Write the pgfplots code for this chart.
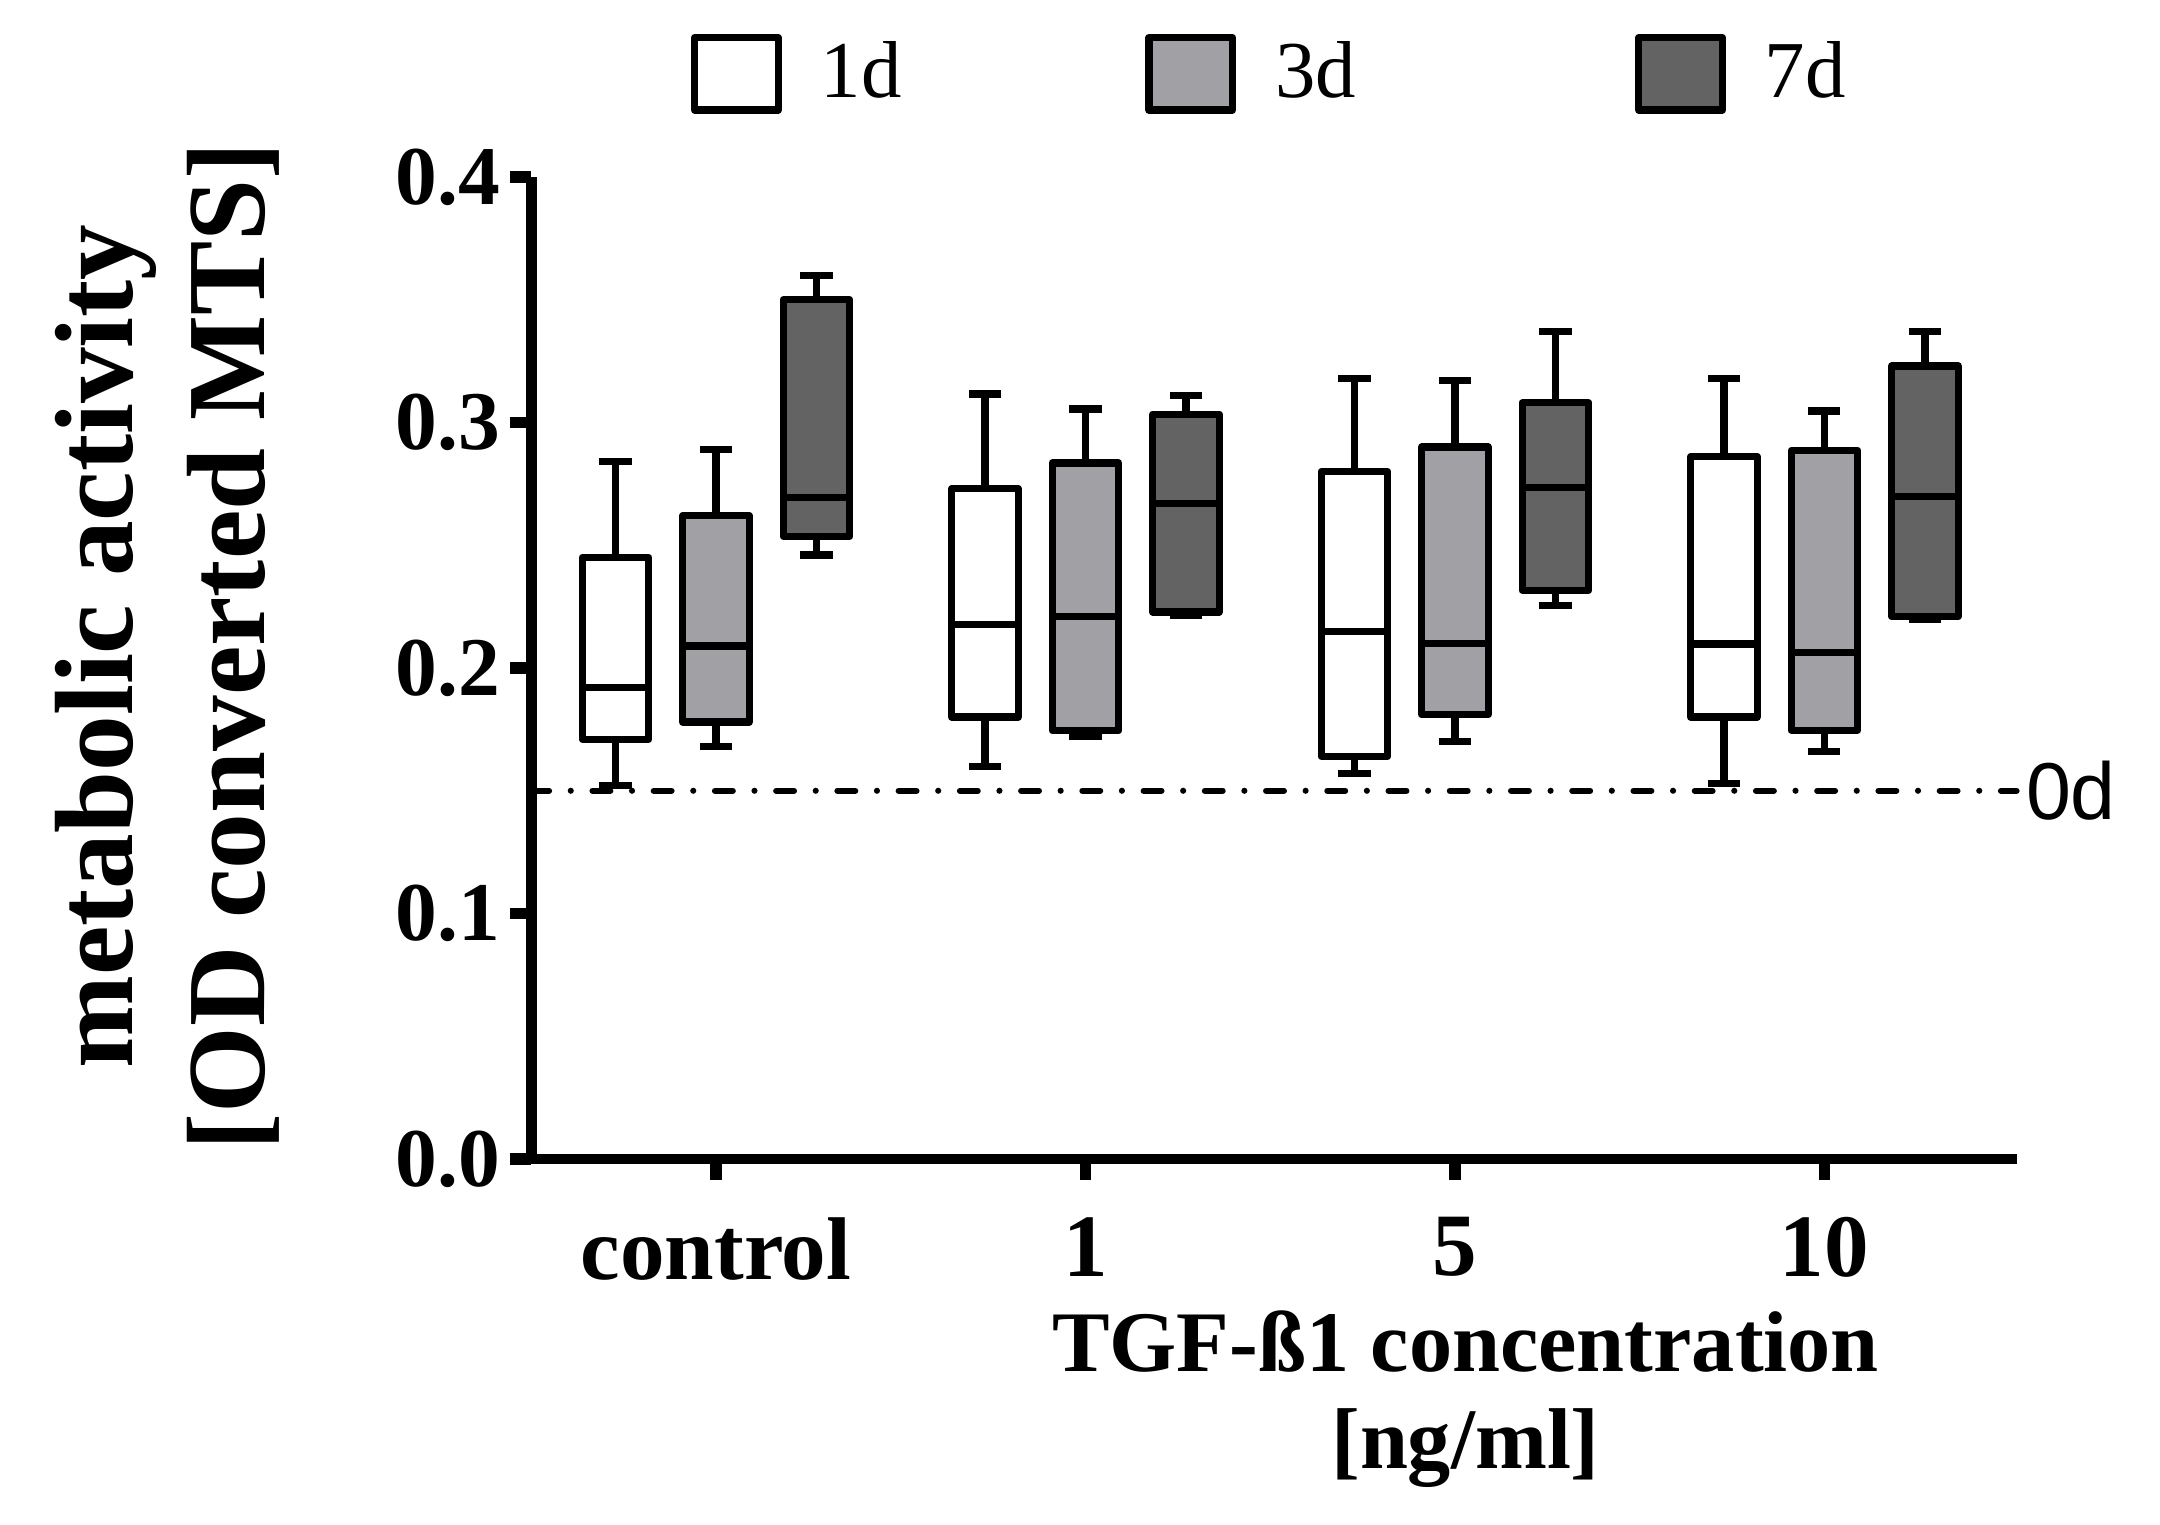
\documentclass[border=0pt]{standalone}
\usepackage{fontspec}
\setmainfont{Liberation Serif}
\newfontfamily\sansf{Liberation Sans}
\usepackage{pgfplots}
\pgfplotsset{compat=1.18}
\usepgfplotslibrary{statistics}

\definecolor{gLight}{RGB}{161,160,165}
\definecolor{gDark}{RGB}{99,99,99}

% one box: position, lower whisker, lower quartile, median, upper quartile, upper whisker, fill
\newcommand{\bx}[7]{%
  \addplot[forget plot, draw=black, fill=#7, line width=1.3pt, line join=round,
    boxplot/draw direction=y,
    boxplot prepared={draw position=#1, lower whisker=#2, lower quartile=#3,
      median=#4, upper quartile=#5, upper whisker=#6,
      box extend=0.18, whisker extend=0.087}]
    coordinates {};}

\begin{document}
\begin{tikzpicture}
\useasboundingbox (-95.43pt,-65.57pt) rectangle (292.57pt,208.19pt);
\begin{axis}[
    width=266.8pt, height=176.4pt, scale only axis,
    xmin=-0.5, xmax=3.52, ymin=0, ymax=0.4,
    axis x line*=bottom, axis y line*=left,
    xtick pos=bottom, ytick pos=left,
    axis line style={line width=1.9pt, -},
    xtick={0,1,2,3}, xticklabels={control,1,5,10},
    ytick={0,0.1,0.2,0.3,0.4}, yticklabels={0.0,0.1,0.2,0.3,0.4},
    tick align=outside, major tick length=3.8pt,
    tick style={line width=2pt, black},
    x tick label style={font=\fontsize{16}{18}\selectfont\bfseries, yshift=-3.2pt},
    y tick label style={font=\fontsize{15}{17}\selectfont\bfseries, xshift=1.7pt},
    xlabel={TGF-ß1 concentration\\{[}ng/ml]},
    xlabel style={at={(axis description cs:0.629,0)}, anchor=north, yshift=-27pt,
      align=center, inner sep=0pt, font=\fontsize{15.5}{17.5}\selectfont\bfseries},
    ylabel={metabolic activity\\{[}OD converted MTS]},
    ylabel style={at={(axis description cs:-0.245,0.522)}, anchor=center,
      align=center, inner sep=0pt, font=\fontsize{20}{23.75}\selectfont\bfseries},
    clip=false,
    legend columns=3,
    legend style={draw=none, fill=none, at={(axis description cs:0.5,1.105)},
      anchor=center, font=\fontsize{14.5}{16}\selectfont,
      /tikz/column 1/.style={column sep=5pt},
      /tikz/column 2/.style={column sep=41.8pt},
      /tikz/column 3/.style={column sep=5pt},
      /tikz/column 4/.style={column sep=48.2pt},
      /tikz/column 5/.style={column sep=5pt}},
    legend image code/.code={\draw[#1, line width=1.3pt, line join=round]
      (0pt,-6.5pt) rectangle (15pt,6.5pt);},
]
% control
\bx{-0.272}{0.152}{0.171}{0.192}{0.245}{0.284}{white}
\bx{0}{0.168}{0.178}{0.209}{0.262}{0.289}{gLight}
\bx{0.272}{0.246}{0.2536}{0.2695}{0.350}{0.360}{gDark}
% 1 ng/ml
\bx{0.728}{0.160}{0.180}{0.2177}{0.273}{0.3116}{white}
\bx{1}{0.172}{0.1744}{0.221}{0.2835}{0.3055}{gLight}
\bx{1.272}{0.2216}{0.2228}{0.267}{0.3034}{0.311}{gDark}
% 5 ng/ml
\bx{1.728}{0.157}{0.164}{0.2148}{0.280}{0.318}{white}
\bx{2}{0.170}{0.181}{0.210}{0.290}{0.317}{gLight}
\bx{2.272}{0.2256}{0.2317}{0.2735}{0.308}{0.337}{gDark}
% 10 ng/ml
\bx{2.728}{0.153}{0.180}{0.2098}{0.286}{0.318}{white}
\bx{3}{0.166}{0.1747}{0.2064}{0.2887}{0.3047}{gLight}
\bx{3.272}{0.220}{0.221}{0.270}{0.323}{0.337}{gDark}
% 0d baseline
\addplot[forget plot, black, line width=1.1pt, line cap=round,
  dash pattern=on 3.2pt off 3.9pt on 0pt off 3.9pt]
  coordinates {(-0.5,0.15) (3.52,0.15)};
\node[anchor=west, inner sep=1.5pt, font=\sansf\fontsize{14.5}{16}\selectfont]
  at (axis cs:3.52,0.15) {0d};
\addlegendimage{draw=black, fill=white}\addlegendentry{1d}
\addlegendimage{draw=black, fill=gLight}\addlegendentry{3d}
\addlegendimage{draw=black, fill=gDark}\addlegendentry{7d}
\end{axis}
\end{tikzpicture}
\end{document}
